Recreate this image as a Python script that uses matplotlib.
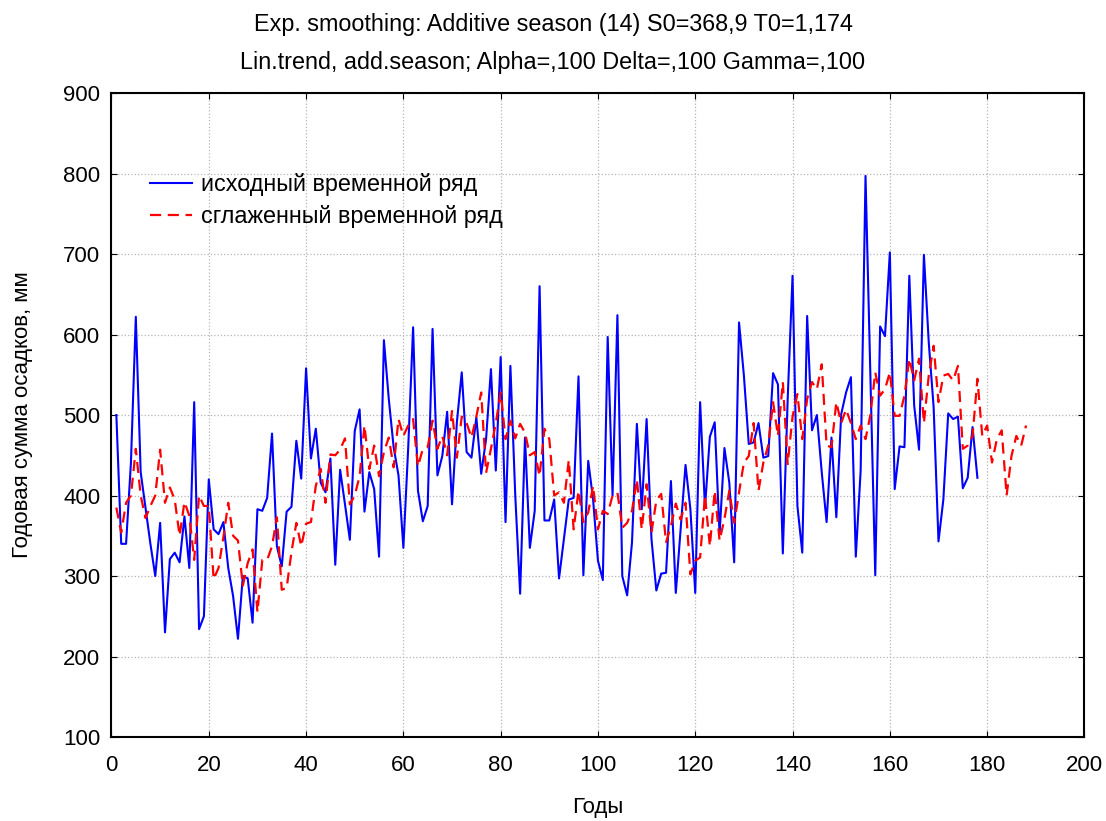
import numpy as np
import matplotlib
matplotlib.use("Agg")
import matplotlib.pyplot as plt

plt.rcParams['font.family'] = ['Liberation Sans', 'DejaVu Sans']

# -----------------------------
# data
# -----------------------------
original = [
    500, 340, 340, 441, 622, 429, 385, 340, 300, 366,
    230, 321, 329, 317, 374, 310, 516, 234, 250, 420,
    358, 352, 367, 310, 275, 222, 300, 297, 242, 383,
    381, 397, 477, 337, 312, 380, 386, 468, 421, 558,
    446, 483, 416, 404, 446, 314, 432, 389, 345, 480,
    507, 380, 429, 408, 324, 593, 520, 460, 425, 335,
    460, 609, 406, 368, 387, 607, 425, 449, 504, 389,
    491, 553, 454, 447, 497, 427, 470, 557, 431, 572,
    367, 561, 400, 278, 472, 335, 381, 660, 369, 369,
    395, 297, 346, 395, 397, 548, 301, 443, 395, 319,
    295, 597, 400, 624, 300, 276, 342, 489, 383, 495,
    346, 282, 303, 304, 418, 279, 358, 438, 383, 279,
    516, 385, 473, 491, 352, 459, 416, 317, 615, 549,
    464, 466, 490, 447, 449, 552, 538, 328, 520, 673,
    387, 329, 623, 481, 500, 429, 367, 472, 373, 501,
    528, 547, 324, 431, 797, 550, 301, 610, 598, 702,
    408, 461, 460, 673, 512, 457, 699, 590, 510, 343,
    395, 502, 495, 498, 409, 422, 485, 422,
]

smoothed = [
    385, 354, 391, 400, 458, 400, 372, 387, 400, 457,
    391, 410, 395, 350, 392, 375, 320, 400, 387, 387,
    296, 310, 348, 391, 350, 344, 288, 316, 333, 255,
    320, 320, 337, 373, 283, 285, 330, 366, 337, 365,
    367, 412, 433, 391, 451, 450, 457, 471, 389, 400,
    424, 487, 433, 462, 424, 454, 472, 435, 495, 474,
    487, 495, 436, 458, 460, 493, 458, 474, 450, 505,
    447, 498, 490, 472, 498, 528, 428, 458, 490, 528,
    470, 493, 471, 489, 478, 450, 454, 424, 483, 470,
    400, 404, 391, 444, 358, 406, 367, 379, 412, 358,
    381, 377, 400, 404, 360, 366, 381, 420, 358, 414,
    354, 394, 402, 342, 362, 390, 370, 391, 302, 319,
    323, 400, 337, 406, 344, 371, 406, 366, 404, 441,
    449, 490, 406, 441, 462, 516, 474, 541, 439, 498,
    526, 470, 520, 541, 532, 563, 462, 460, 516, 490,
    507, 490, 470, 487, 470, 500, 553, 524, 532, 553,
    499, 499, 524, 570, 543, 570, 490, 549, 586, 516,
    549, 551, 543, 561, 458, 462, 474, 545, 474, 487,
    441, 470, 481, 400, 449, 474, 462, 487,
]

x_orig = np.arange(1, len(original) + 1)
x_smooth = np.arange(1, len(smoothed) + 1)

title_1 = "Exp. smoothing: Additive season (14) S0=368,9 T0=1,174"
title_2 = "Lin.trend, add.season; Alpha=,100 Delta=,100 Gamma=,100"

# -----------------------------
# plot
# -----------------------------
fig = plt.figure(figsize=(11.06, 8.21), dpi=100)
ax = fig.add_axes([0.1008, 0.1023, 0.8797, 0.7844])

ax.plot(x_orig, original, color="#0000ff", linewidth=1.5,
        label="исходный временной ряд")
ax.plot(x_smooth, smoothed, color="#ff0000", linewidth=1.6,
        linestyle=(0, (5, 3)), label="сглаженный временной ряд")

ax.set_xlim(0, 200)
ax.set_ylim(100, 900)
ax.set_xticks(np.arange(0, 201, 20))
ax.set_yticks(np.arange(100, 901, 100))
ax.grid(True, linestyle=":", color="#b5b5b5", linewidth=0.9)
ax.tick_params(direction="in", top=True, right=True, length=4,
               labelsize=16, pad=8)
ax.tick_params(axis="x", pad=13)
for s in ax.spines.values():
    s.set_linewidth(1.5)

ax.set_xlabel("Годы", fontsize=16, labelpad=15)
ax.set_ylabel("Годовая сумма осадков, мм", fontsize=16, labelpad=22)

fig.text(0.5, 0.970, title_1, ha="center", va="center", fontsize=16.8)
fig.text(0.5, 0.924, title_2, ha="center", va="center", fontsize=16.8)

ax.legend(loc="upper left", bbox_to_anchor=(0.025, 0.898), frameon=False,
          fontsize=16.8, handlelength=1.8, handletextpad=0.4,
          labelspacing=0.4, borderaxespad=0.2)

fig.savefig("out.png", dpi=100)
